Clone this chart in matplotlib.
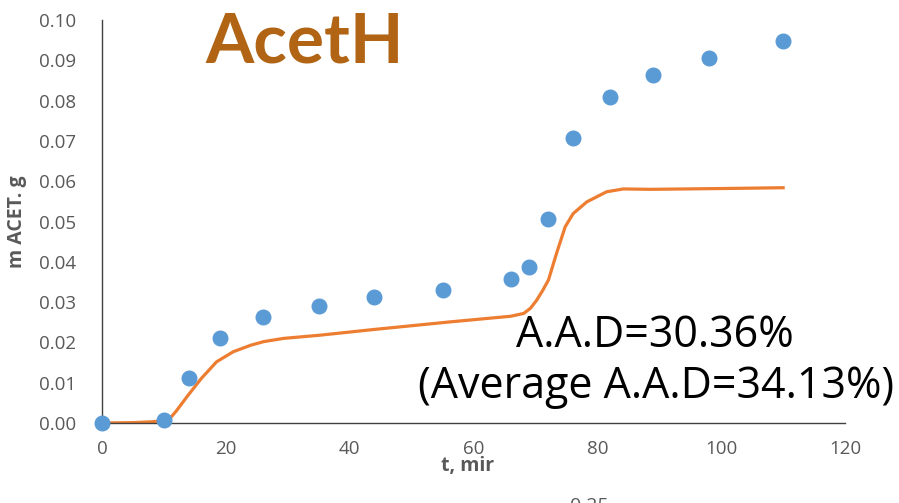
import numpy as np
import matplotlib.pyplot as plt

# measured points (t, min ; m ACET, g)
exp_t = [0, 10, 14, 19, 26, 35, 44, 55, 66, 69, 72, 76, 82, 89, 98, 110]
exp_m = [0.0, 0.0007, 0.0112, 0.0210, 0.0264, 0.0291, 0.0312, 0.0330,
         0.0357, 0.0388, 0.0507, 0.0707, 0.0809, 0.0863, 0.0907, 0.0949]

# model curve
model_t = [0, 5, 8, 10, 11, 12, 13.7, 16, 18.5, 21.2, 24, 26.1, 29.3, 35.2, 43.8,
           56.2, 66, 68.1, 69.2, 70.2, 71.2, 72.1, 73.4, 74.8, 76.1, 78.3,
           81.5, 84.2, 88.5, 100, 110]
model_m = [0.0, 0.0001, 0.0003, 0.0006, 0.0012, 0.0030, 0.0065, 0.0110, 0.0152,
           0.0177, 0.0193, 0.0202, 0.0210, 0.0218, 0.0232, 0.0251, 0.0265,
           0.0272, 0.0285, 0.0305, 0.0330, 0.0355, 0.0421, 0.0487, 0.0520,
           0.0549, 0.0574, 0.0581, 0.0580, 0.0582, 0.0584]

xticks = [0, 20, 40, 60, 80, 100, 120]
yticks = [0.00, 0.01, 0.02, 0.03, 0.04, 0.05, 0.06, 0.07, 0.08, 0.09, 0.10]

plt.rcParams['font.family'] = ['Open Sans', 'DejaVu Sans']

fig = plt.figure(figsize=(8.99, 5.03), dpi=100)
ax = fig.add_axes([0.1135, 0.159, 0.8265, 0.801])

ax.plot(model_t, model_m, color="#ED7D31", linewidth=2.3, zorder=2)
ax.plot(exp_t, exp_m, linestyle="none", marker="o", markersize=10.5,
        color="#5B9BD5", zorder=3, clip_on=False)

ax.set_xlim(0, 120)
ax.set_ylim(0, 0.10)
ax.set_xticks(xticks)
ax.set_yticks(yticks)
ax.set_yticklabels(["%.2f" % v for v in yticks])
ax.tick_params(length=0, labelsize=13.5, colors="#595959")
ax.tick_params(axis="y", pad=19)
ax.tick_params(axis="x", pad=12)
for side in ["top", "right"]:
    ax.spines[side].set_visible(False)
for side in ["left", "bottom"]:
    ax.spines[side].set_color("#404040")
    ax.spines[side].set_linewidth(1.0)

fig.text(0.019, 0.56, "m ACET. g", rotation=90, fontsize=14, fontweight="bold",
         color="#595959", ha="center", va="center")
fig.text(0.52, 0.073, "t, mir", fontsize=14, fontweight="bold",
         color="#595959", ha="center", va="center")
fig.text(0.655, -0.006, "0.25", fontsize=14, color="#595959",
         ha="center", va="center")

fig.text(0.339, 0.915, "AcetH", fontsize=50, fontweight="bold",
         color="#B06414", ha="center", va="center", family="Lato")
fig.text(0.729, 0.31, "A.A.D=30.36%", fontsize=31, color="black",
         ha="center", va="baseline")
fig.text(0.730, 0.209, "(Average A.A.D=34.13%)", fontsize=31, color="black",
         ha="center", va="baseline")

fig.savefig("out.png", dpi=100)
